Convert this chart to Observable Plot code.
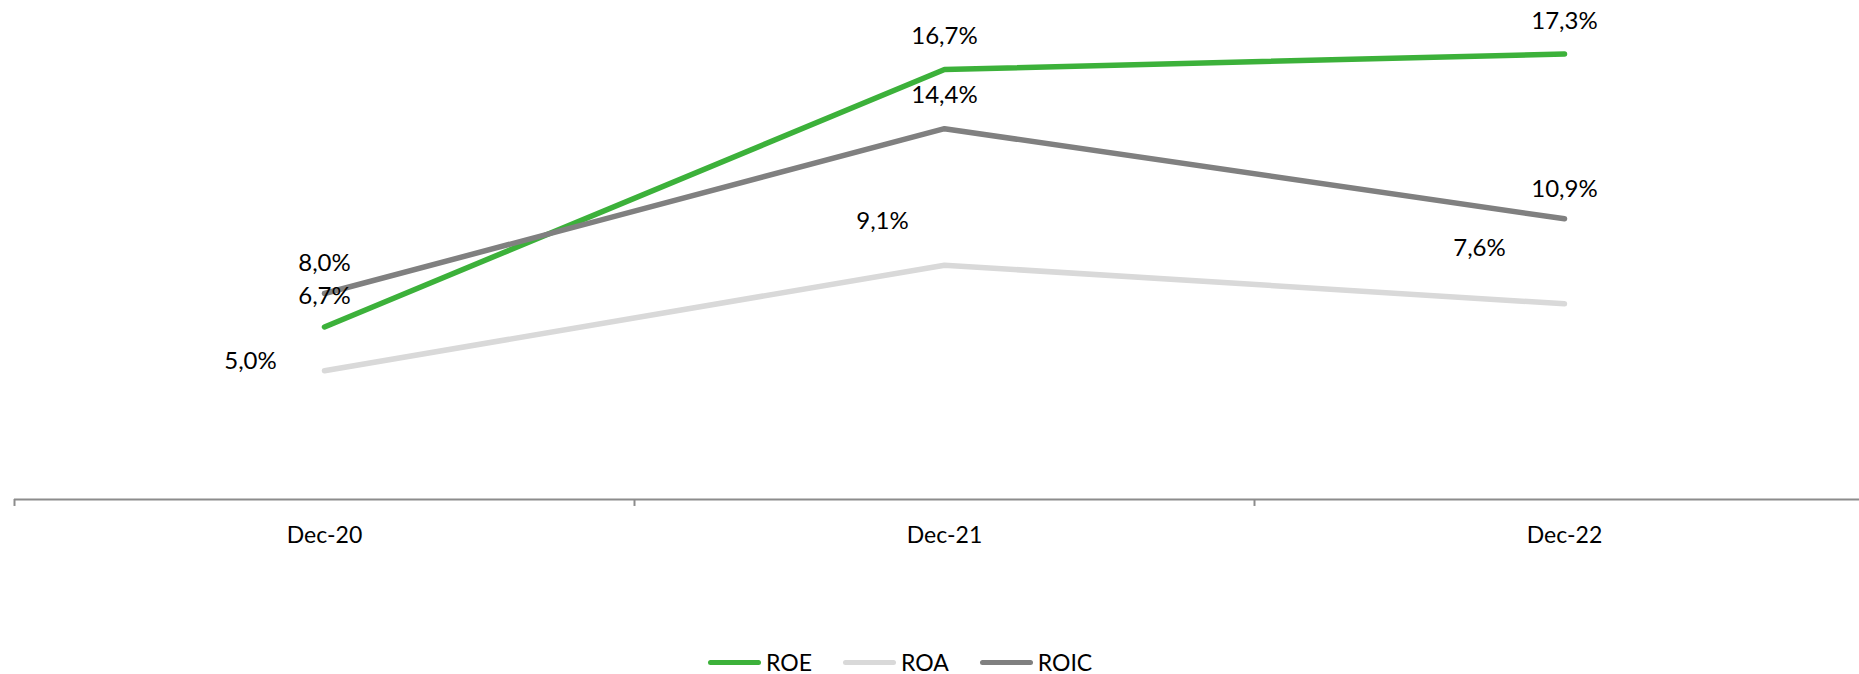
<!DOCTYPE html>
<html>
<head>
<meta charset="utf-8">
<script src="https://cdn.jsdelivr.net/npm/d3@7"></script>
<script src="https://cdn.jsdelivr.net/npm/@observablehq/plot@0.6"></script>
<style>
  html, body { margin: 0; padding: 0; background: #fff; }
  body { width: 1859px; height: 674px; position: relative; overflow: hidden; font-family: Lato, "Open Sans", sans-serif; }
  #legend { position: absolute; top: 645px; left: 708px; height: 34px; display: flex; align-items: center; font-size: 23px; color: #000; }
  .item { display: flex; align-items: center; margin-right: 31px; }
  .sw { width: 53px; height: 5px; border-radius: 3px; margin-right: 5px; }
</style>
</head>
<body>
<div id="chart"></div>
<div id="legend"></div>
<script>
const categories = ["Dec-20", "Dec-21", "Dec-22"];
const seriesNames = ["ROE", "ROA", "ROIC"];
const roe = [6.7, 16.7, 17.3];
const roa = [5.0, 9.1, 7.6];
const roic = [8.0, 14.4, 10.9];
const seriesColors = ["#3cb13a", "#d9d9d9", "#808080"];

const values = {ROE: roe, ROA: roa, ROIC: roic};
const data = seriesNames.flatMap(s => values[s].map((v, i) => ({series: s, i, cat: categories[i], value: v})));

// label placement offsets (px), styling only
const labelOffsets = {
  ROE: [[0, -31], [0, -33], [0, -33]],
  ROA: [[-74, -9], [-62, -44], [-85, -55]],
  ROIC: [[0, -30], [0, -33], [0, -30]]
};
const fmt = v => v.toFixed(1).replace(".", ",") + "%";

const labelMarks = data.map(d => Plot.text([d], {
  x: "i", y: "value", text: dd => fmt(dd.value),
  dx: labelOffsets[d.series][d.i][0], dy: labelOffsets[d.series][d.i][1],
  fontSize: 24, fill: "#000"
}));

const boundaries = [-0.5, 0.5, 1.5];

const chart = Plot.plot({
  width: 1859,
  height: 645,
  marginLeft: 14,
  marginRight: 0,
  marginTop: 0,
  marginBottom: 0,
  style: {fontFamily: "Lato, 'Open Sans', sans-serif", background: "#fff", overflow: "visible"},
  x: {type: "linear", domain: [-0.5, 2.5], range: [14, 1874], axis: null},
  y: {domain: [0, 20], range: [499, -16], axis: null},
  color: {domain: seriesNames, range: seriesColors},
  marks: [
    Plot.ruleY([0], {stroke: "#8c8c8c", strokeWidth: 2}),
    Plot.ruleX(boundaries, {y1: 0, y2: -0.27, stroke: "#8c8c8c", strokeWidth: 2}),
    Plot.text(categories, {x: (d, i) => i, y: () => 0, dy: 36, text: d => d, fontSize: 23, fill: "#000"}),
    Plot.line(data, {x: "i", y: "value", z: "series", stroke: "series", strokeWidth: 5.5, strokeLinecap: "round", strokeLinejoin: "round"}),
    ...labelMarks
  ]
});
document.getElementById("chart").appendChild(chart);

const legend = document.getElementById("legend");
seriesNames.forEach((s, k) => {
  const it = document.createElement("div");
  it.className = "item";
  const sw = document.createElement("div");
  sw.className = "sw";
  sw.style.background = seriesColors[k];
  const t = document.createElement("span");
  t.textContent = s;
  it.appendChild(sw); it.appendChild(t);
  legend.appendChild(it);
});
</script>
</body>
</html>
